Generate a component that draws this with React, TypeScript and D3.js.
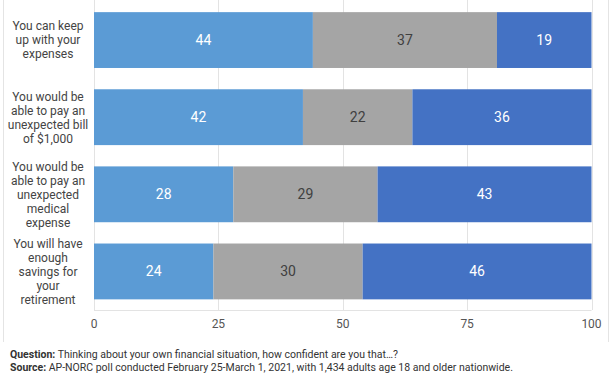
import React from "react";
import * as d3 from "d3";

const categories = [
  ["You can keep", "up with your", "expenses"],
  ["You would be", "able to pay an", "unexpected bill", "of $1,000"],
  ["You would be", "able to pay an", "unexpected", "medical", "expense"],
  ["You will have", "enough", "savings for", "your", "retirement"],
];
const seriesA = [44, 42, 28, 24];
const seriesB = [37, 22, 29, 30];
const seriesC = [19, 36, 43, 46];
const xTicks = [0, 25, 50, 75, 100];
const colors = ["#5B9BD5", "#A5A5A5", "#4472C4"];
const textColors = ["#ffffff", "#404040", "#ffffff"];

const W = 612;
const H = 374;
const left = 94;
const right = 591.5;
const top = 1.5;
const bottom = 310;

export default function App() {
  const x = d3.scaleLinear().domain([0, 100]).range([left, right]);
  const y = d3
    .scaleBand<number>()
    .domain(d3.range(categories.length))
    .range([top, bottom])
    .paddingInner(0.276)
    .paddingOuter(0.138);
  const series = [seriesA, seriesB, seriesC];
  const font = "Roboto, 'Noto Sans', sans-serif";
  return (
    <svg
      width={W}
      height={H}
      style={{ position: "absolute", left: 0, top: 0, fontFamily: font }}
    >
      <rect x={0} y={0} width={W} height={H} fill="#fff" />
      <line x1={3.5} x2={3.5} y1={0} y2={342} stroke="#e4e4e4" />
      <line x1={608.5} x2={608.5} y1={0} y2={342} stroke="#e4e4e4" />
      {xTicks.map((t) => (
        <line
          key={"g" + t}
          x1={Math.round(x(t)) + 0.5}
          x2={Math.round(x(t)) + 0.5}
          y1={0}
          y2={bottom}
          stroke="#e3e3e3"
        />
      ))}
      <line x1={left} x2={right} y1={bottom + 0.5} y2={bottom + 0.5} stroke="#e3e3e3" />
      {categories.map((_, i) => {
        let acc = 0;
        return (
          <g key={"r" + i}>
            {series.map((s, j) => {
              const x0 = x(acc);
              acc += s[i];
              const x1 = x(acc);
              const yy = y(i)!;
              return (
                <g key={j}>
                  <rect x={x0} y={yy} width={x1 - x0} height={y.bandwidth()} fill={colors[j]} />
                  <text
                    x={(x0 + x1) / 2}
                    y={yy + y.bandwidth() / 2}
                    dy="0.36em"
                    textAnchor="middle"
                    fontSize={14}
                    fill={textColors[j]}
                  >
                    {s[i]}
                  </text>
                </g>
              );
            })}
          </g>
        );
      })}
      {categories.map((lines, i) => {
        const cy = y(i)! + y.bandwidth() / 2;
        const lh = 14;
        const start = cy - ((lines.length - 1) * lh) / 2;
        return (
          <text key={"c" + i} textAnchor="middle" fontSize={12} fill="#444">
            {lines.map((l, k) => (
              <tspan key={k} x={48} y={start + k * lh} dy="0.36em">
                {l}
              </tspan>
            ))}
          </text>
        );
      })}
      {xTicks.map((t) => (
        <text
          key={"t" + t}
          x={x(t)}
          y={324}
          dy="0.36em"
          textAnchor="middle"
          fontSize={12}
          fill="#555"
        >
          {t}
        </text>
      ))}
      <text x={10} y={358} fontSize={10.5} fill="#333">
        <tspan fontWeight="bold">Question:</tspan> Thinking about your own financial situation, how confident are you that…?
      </text>
      <text x={10} y={371} fontSize={10.5} fill="#333">
        <tspan fontWeight="bold">Source:</tspan> AP-NORC poll conducted February 25-March 1, 2021, with 1,434 adults age 18 and older nationwide.
      </text>
    </svg>
  );
}
